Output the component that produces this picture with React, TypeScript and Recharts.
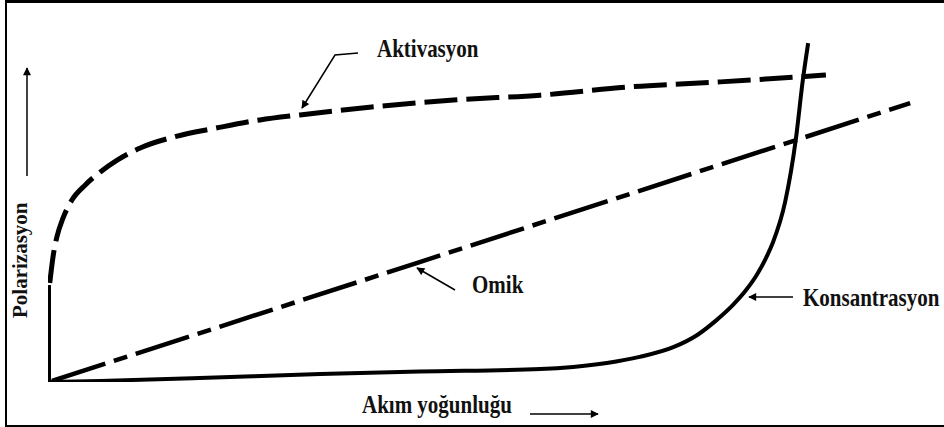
import { LineChart, Line, XAxis, YAxis, Customized } from "recharts";

// Polarizasyon eğrileri (şematik), x: akım yoğunluğu, y: polarizasyon, 0-100 ölçek
const baslangic = [
  { x: 0, y: 0 },
  { x: 0, y: 27 },
];

const aktivasyon = [
  { x: 0.2, y: 27.6 },
  { x: 0.6, y: 35.4 },
  { x: 1.0, y: 40.4 },
  { x: 1.7, y: 45.7 },
  { x: 2.7, y: 50.7 },
  { x: 4.2, y: 54.9 },
  { x: 5.9, y: 58.5 },
  { x: 7.8, y: 61.8 },
  { x: 10.4, y: 65.2 },
  { x: 14.1, y: 68.2 },
  { x: 19.1, y: 70.8 },
  { x: 23.9, y: 73.0 },
  { x: 28.4, y: 74.4 },
  { x: 36.5, y: 76.6 },
  { x: 46.1, y: 78.6 },
  { x: 55.5, y: 79.9 },
  { x: 65.6, y: 82.2 },
  { x: 75.8, y: 83.6 },
  { x: 87.7, y: 85.5 },
];

const omik = [
  { x: 0.45, y: 0.3 },
  { x: 41.9, y: 33.4 },
  { x: 97.2, y: 77.7 },
];

const konsantrasyon = [
  { x: 0.2, y: 0 },
  { x: 5.9, y: 0.3 },
  { x: 17.1, y: 1.1 },
  { x: 30.7, y: 2.2 },
  { x: 41.9, y: 2.9 },
  { x: 55.5, y: 3.6 },
  { x: 59.2, y: 4.2 },
  { x: 63.0, y: 5.3 },
  { x: 66.7, y: 7.0 },
  { x: 70.5, y: 9.7 },
  { x: 73.2, y: 13.1 },
  { x: 75.4, y: 17.3 },
  { x: 77.2, y: 21.4 },
  { x: 78.7, y: 25.6 },
  { x: 79.9, y: 29.8 },
  { x: 80.9, y: 34.3 },
  { x: 81.7, y: 38.7 },
  { x: 83.1, y: 50.1 },
  { x: 84.3, y: 67.4 },
  { x: 85.1, y: 84.1 },
  { x: 85.7, y: 94.4 },
];

const font = { fontFamily: "'Liberation Serif', 'Times New Roman', serif", fontWeight: 700, fontSize: 21, fill: "#111" };

function Label({ x, y, children }: { x: number; y: number; children: string }) {
  return (
    <text x={0} y={0} {...font} transform={`translate(${x},${y}) scale(1,1.15)`}>
      {children}
    </text>
  );
}

function Notes() {
  return (
    <g>
      <defs>
        <marker id="ok" viewBox="0 0 10 10" refX="9" refY="5" markerWidth="10" markerHeight="8" markerUnits="userSpaceOnUse" orient="auto">
          <path d="M0,0 L10,5 L0,10 z" fill="#000" />
        </marker>
      </defs>
      <Label x={377} y={57}>Aktivasyon</Label>
      <polyline points="358,53 335,55 302,108" fill="none" stroke="#000" strokeWidth={1.5} markerEnd="url(#ok)" />
      <Label x={472} y={293}>Omik</Label>
      <line x1={455} y1={290} x2={417} y2={268} stroke="#000" strokeWidth={1.5} markerEnd="url(#ok)" />
      <Label x={803} y={306}>Konsantrasyon</Label>
      <line x1={793} y1={297} x2={749} y2={297} stroke="#000" strokeWidth={1.5} markerEnd="url(#ok)" />
      <Label x={362} y={413}>Akım yoğunluğu</Label>
      <line x1={530} y1={414} x2={598} y2={414} stroke="#000" strokeWidth={1.5} markerEnd="url(#ok)" />
      <text x={0} y={0} {...font} transform="translate(27,318) rotate(-90)">Polarizasyon</text>
      <line x1={27} y1={176} x2={27} y2={68} stroke="#000" strokeWidth={1.5} markerEnd="url(#ok)" />
    </g>
  );
}

export default function App() {
  return (
    <div style={{ position: "absolute", left: 0, top: 0, width: 944, height: 427, background: "#fff" }}>
      <div
        style={{
          position: "absolute",
          left: 5,
          top: 0,
          width: 939,
          height: 427,
          boxSizing: "border-box",
          borderTop: "3px solid #000",
          borderLeft: "2px solid #000",
          borderBottom: "2px solid #000",
        }}
      />
      <LineChart width={944} height={427} margin={{ top: 23, right: 9, bottom: 45, left: 48 }} style={{ position: "absolute", left: 0, top: 0 }}>
        <XAxis type="number" dataKey="x" domain={[0, 100]} height={0} tick={false} tickLine={false} axisLine={{ stroke: "#000", strokeWidth: 1.5 }} allowDataOverflow />
        <YAxis type="number" dataKey="y" domain={[0, 100]} width={0} tick={false} tickLine={false} axisLine={{ stroke: "#000", strokeWidth: 1.5 }} allowDataOverflow />
        <Line data={baslangic} dataKey="y" type="linear" stroke="#000" strokeWidth={6} dot={false} isAnimationActive={false} />
        <Line data={aktivasyon} dataKey="y" type="monotone" stroke="#000" strokeWidth={5} strokeDasharray="33 9" dot={false} isAnimationActive={false} />
        <Line data={omik} dataKey="y" type="linear" stroke="#000" strokeWidth={4.5} strokeDasharray="56 9 14 9" dot={false} isAnimationActive={false} />
        <Line data={konsantrasyon} dataKey="y" type="monotone" stroke="#000" strokeWidth={4} dot={false} isAnimationActive={false} />
        <Customized component={Notes} />
      </LineChart>
    </div>
  );
}
